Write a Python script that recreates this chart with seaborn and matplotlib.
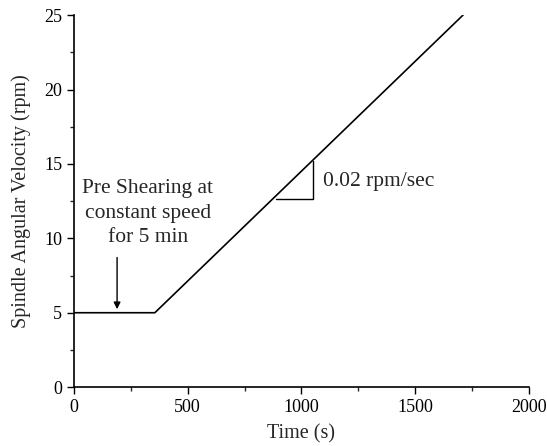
import matplotlib
matplotlib.use('Agg')
import matplotlib.pyplot as plt
import seaborn as sns
import pandas as pd
from matplotlib.ticker import MultipleLocator

# values
time_s = [0, 356, 1710]
velocity_rpm = [5, 5, 25]
slope_x = [888, 1051, 1051]
slope_y = [12.65, 12.65, 15.2]

sns.set_style('ticks')
plt.rcParams['font.family'] = ['Liberation Serif', 'DejaVu Serif']
plt.rcParams['font.size'] = 12

df = pd.DataFrame({'time': time_s, 'velocity': velocity_rpm})

fig = plt.figure(figsize=(5.47, 4.46), dpi=100)
ax = fig.add_axes([0.135, 0.132, 0.832, 0.834])
sns.lineplot(data=df, x='time', y='velocity', color='black', lw=1.2, ax=ax)
ax.plot(slope_x, slope_y, color='black', lw=1)

ax.set_xlim(0, 2000)
ax.set_ylim(0, 25)
ax.xaxis.set_major_locator(MultipleLocator(500))
ax.xaxis.set_minor_locator(MultipleLocator(250))
ax.yaxis.set_major_locator(MultipleLocator(5))
ax.yaxis.set_minor_locator(MultipleLocator(2.5))
ax.tick_params(which='major', length=5, width=1, labelsize=13, colors='black')
ax.tick_params(which='minor', length=3, width=1)
for s in ['left', 'bottom']:
    ax.spines[s].set_linewidth(1.2)
    ax.spines[s].set_color('black')
sns.despine(ax=ax)

ax.set_xlabel('Time (s)', fontsize=14.5, labelpad=6)
ax.set_ylabel('Spindle Angular Velocity (rpm)', fontsize=14.5, labelpad=9)

ax.text(1095, 13.8, '0.02 rpm/sec', fontsize=15.5, va='center', ha='left')
ax.text(325, 11.7, 'Pre Shearing at\nconstant speed\nfor 5 min', fontsize=15.5,
        ha='center', va='center', linespacing=1.4)
ax.annotate('', xy=(190, 5.05), xytext=(190, 8.9),
            arrowprops=dict(arrowstyle='-|>', color='black', lw=1, mutation_scale=10))

fig.savefig('out.png', dpi=100)
